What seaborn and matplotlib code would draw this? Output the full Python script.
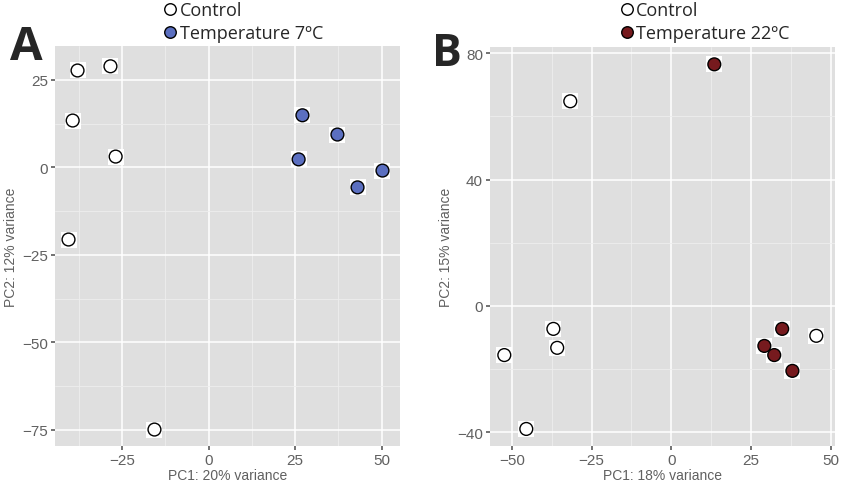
import numpy as np
import matplotlib
matplotlib.use("Agg")
import matplotlib.pyplot as plt
import seaborn as sns
import pandas as pd

# --- data ---
a_ctrl_x = [-37.8, -28.3, -39.2, -26.8, -40.4, -15.6]
a_ctrl_y = [27.7, 28.9, 13.4, 3.1, -20.6, -74.9]
a_temp_x = [27.1, 37.2, 26.0, 43.0, 50.2]
a_temp_y = [14.9, 9.4, 2.3, -5.7, -0.9]

b_ctrl_x = [-31.7, -52.4, -37.0, -35.8, -45.5, 45.5]
b_ctrl_y = [64.8, -15.6, -7.3, -13.3, -39.0, -9.5]
b_temp_x = [13.5, 34.8, 29.2, 32.3, 38.0]
b_temp_y = [76.5, -7.3, -12.7, -15.6, -20.6]

a_labels = ["Control", "Temperature 7ºC"]
b_labels = ["Control", "Temperature 22ºC"]

a_xticks = [-25, 0, 25, 50]
a_yticks = [-75, -50, -25, 0, 25]
b_xticks = [-50, -25, 0, 25, 50]
b_yticks = [-40, 0, 40, 80]

BG = "#DFDFDF"
TICK = "#606060"

sns.set_theme(style="darkgrid", rc={"axes.facecolor": BG, "grid.color": "white"})
plt.rcParams['font.family'] = ['Liberation Sans', 'DejaVu Sans']

fig = plt.figure(figsize=(8.41, 4.89), dpi=100)
ax_a = fig.add_axes([0.0654, 0.0859, 0.410, 0.818])
ax_b = fig.add_axes([0.5826, 0.0859, 0.410, 0.816])


def draw_panel(ax, cx, cy, tx, ty, labels, color, xlim, ylim, xticks, yticks,
               xlab, ylab, leg_x):
    df = pd.DataFrame({
        "x": cx + tx,
        "y": cy + ty,
        "group": [labels[0]] * len(cx) + [labels[1]] * len(tx),
    })
    # white square patch behind each point (as in the reference)
    ax.scatter(df["x"], df["y"], marker="s", s=140, color="white", zorder=2,
               linewidths=0)
    sns.scatterplot(data=df, x="x", y="y", hue="group",
                    palette={labels[0]: "white", labels[1]: color},
                    s=85, edgecolor="black", linewidth=1.0, ax=ax, zorder=3)
    ax.set_xticks(xticks)
    ax.set_yticks(yticks)
    ax.set_xticklabels([str(t).replace("-", "\u2212") for t in xticks])
    ax.set_yticklabels([str(t).replace("-", "\u2212") for t in yticks])
    # minor grid halfway between majors
    xs = xticks[1] - xticks[0]
    ys = yticks[1] - yticks[0]
    xm = [xticks[0] - xs / 2] + [t + xs / 2 for t in xticks]
    ym = [yticks[0] - ys / 2] + [t + ys / 2 for t in yticks]
    ax.set_xticks(xm, minor=True)
    ax.set_yticks(ym, minor=True)
    ax.set_xlim(*xlim)
    ax.set_ylim(*ylim)
    ax.grid(which="major", color="white", linewidth=1.1)
    ax.grid(which="minor", color="#EEEEEE", linewidth=0.6)
    ax.tick_params(which="major", length=3, color=TICK, labelcolor=TICK,
                   labelsize=11, pad=2, bottom=True, left=True)
    ax.tick_params(which="minor", length=0)
    ax.set_xlabel(xlab, fontsize=10, color=TICK, labelpad=1)
    ax.set_ylabel(ylab, fontsize=10, color=TICK, labelpad=3)
    for s in ax.spines.values():
        s.set_visible(False)
    sns.move_legend(ax, "upper left", bbox_to_anchor=(leg_x, 0.995),
                    bbox_transform=fig.transFigure, title=None, frameon=False,
                    handletextpad=0.0, handlelength=1.0, markerscale=0.9,
                    labelspacing=0.25, borderpad=0, borderaxespad=0,
                    prop={"family": ["Open Sans", "DejaVu Sans"], "size": 13})


draw_panel(ax_a, a_ctrl_x, a_ctrl_y, a_temp_x, a_temp_y, a_labels, "#5B6FC0",
           (-44.3, 55.2), (-79.6, 34.7), a_xticks, a_yticks,
           "PC1: 20% variance", "PC2: 12% variance", 0.192)
draw_panel(ax_b, b_ctrl_x, b_ctrl_y, b_temp_x, b_temp_y, b_labels, "#761A1E",
           (-56.9, 51.3), (-44.4, 82.0), b_xticks, b_yticks,
           "PC1: 18% variance", "PC2: 15% variance", 0.735)

fig.text(0.012, 0.878, "A", fontsize=34, fontweight="bold", color="#262626",
         family=["Open Sans", "DejaVu Sans"])
fig.text(0.514, 0.865, "B", fontsize=32, fontweight="bold", color="#262626",
         family=["Open Sans", "DejaVu Sans"])

fig.savefig("out.png", dpi=100)
